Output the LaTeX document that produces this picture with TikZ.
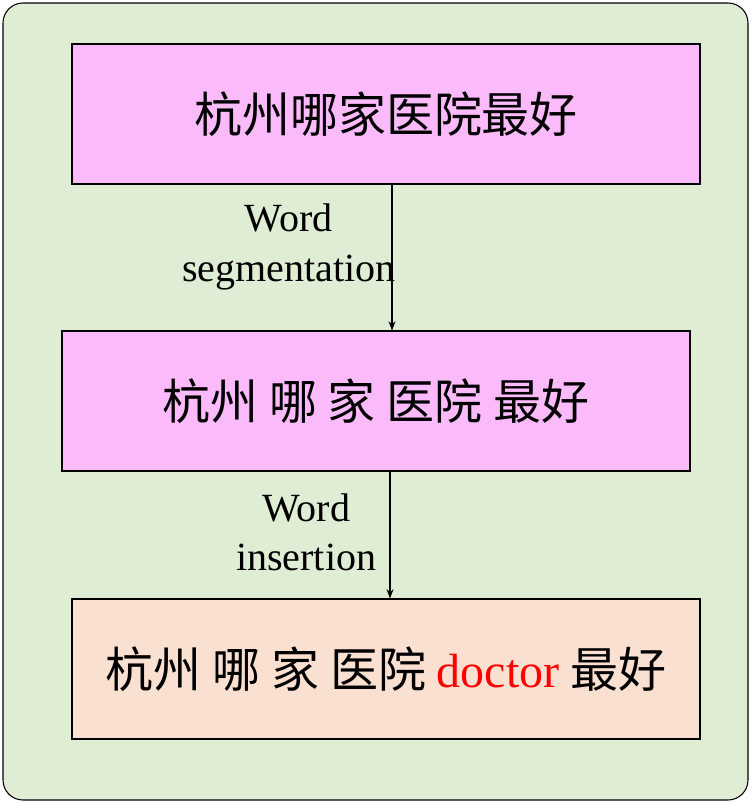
\documentclass[tikz,border=0pt]{standalone}
\usepackage{fontspec}
\setmainfont{Liberation Serif}
\newfontfamily\cjk{Noto Sans CJK SC}
\usetikzlibrary{arrows.meta}
\definecolor{bggreen}{HTML}{DFEDD5}
\definecolor{boxpink}{HTML}{FBBBFB}
\definecolor{boxpeach}{HTML}{FAE0D1}

\begin{document}
\begin{tikzpicture}[
        x=0.75pt, y=-0.75pt,
        sentbox/.style={
            draw, thick, minimum width=471pt, minimum height=105pt,
            font=\fontsize{36}{40}\selectfont\cjk
        },
        steplabel/.style={font=\fontsize{30}{37}\selectfont, align=center, inner sep=0pt},
        flow/.style={-{Stealth[length=7pt]}, thick},
        ]
        \useasboundingbox (0,0) rectangle (752,804);
        \draw[thick, rounded corners=15pt, fill=bggreen] (3,3) rectangle (748,800);

        \node[sentbox, fill=boxpink] (query) at (386,114) {杭州哪家医院最好};
        \node[sentbox, fill=boxpink] (segmented) at (376,401) {杭州\ 哪\ 家\ 医院\ 最好};
        \node[sentbox, fill=boxpeach] (inserted) at (386,669)
            {杭州\ 哪\ 家\ 医院\ {\rmfamily\color{red}doctor}\ 最好};

        \draw[flow] (query.south -| 392,0) -- (segmented.north -| 392,0)
            node[midway, left, steplabel, xshift=3pt, yshift=8pt] {Word\\segmentation};
        \draw[flow] (segmented.south -| 390,0) -- (inserted.north -| 390,0)
            node[midway, left, steplabel, xshift=-10pt, yshift=2pt] {Word\\insertion};
    \end{tikzpicture}
\end{document}
